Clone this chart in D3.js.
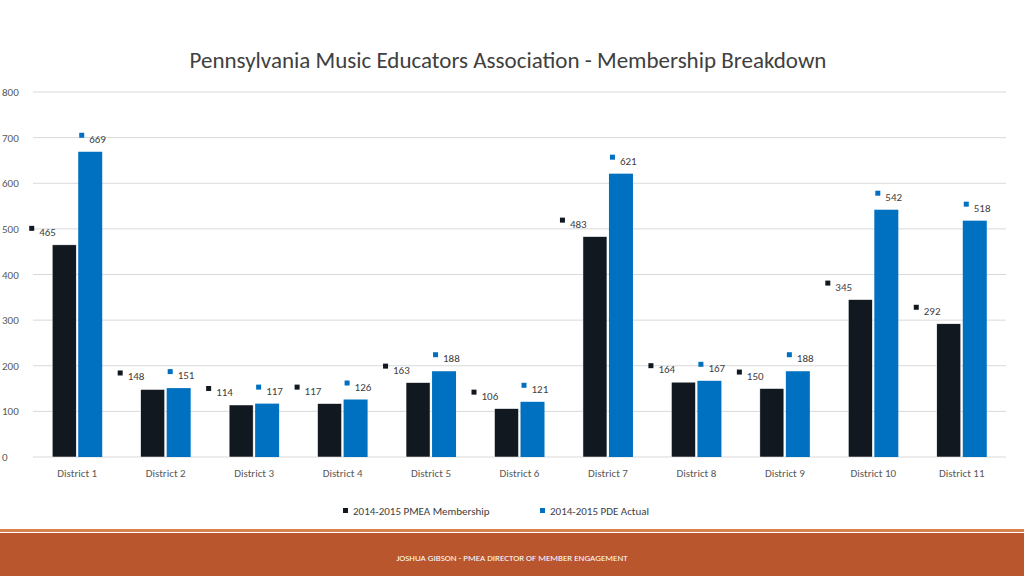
<!DOCTYPE html>
<html><head><meta charset="utf-8">
<script src="https://cdn.jsdelivr.net/npm/d3@7"></script>
<style>body{margin:0;background:#fff;font-family:Calibri,"Liberation Sans","Open Sans",sans-serif}</style>
</head><body><div id="chart"></div>
<script>
// chart values
var districts = ["District 1","District 2","District 3","District 4","District 5","District 6","District 7","District 8","District 9","District 10","District 11"];
var pmea = [465,148,114,117,163,106,483,164,150,345,292];
var pde = [669,151,117,126,188,121,621,167,188,542,518];
var seriesNames = ["2014-2015 PMEA Membership","2014-2015 PDE Actual"];
var colors = ["#111820","#0070C0"];
var yTicks = [0,100,200,300,400,500,600,700,800];

var W = 1024, H = 576;
var margin = {top: 92, right: 18, bottom: 119, left: 33};
var svg = d3.select("#chart").append("svg").attr("width", W).attr("height", H);

var x = d3.scaleBand().domain(districts).range([margin.left, W - margin.right]);
var y = d3.scaleLinear().domain([0, 800]).range([H - margin.bottom, margin.top]);

// gridlines
svg.append("g").selectAll("line").data(yTicks).enter().append("line")
  .attr("x1", margin.left).attr("x2", W - margin.right)
  .attr("y1", function(d){return y(d);}).attr("y2", function(d){return y(d);})
  .attr("stroke", "#d9d9d9").attr("stroke-width", 1);

svg.append("g").selectAll("text").data(yTicks).enter().append("text")
  .attr("x", 2).attr("y", function(d){return y(d) + 4;})
  .style("font-size", "11px").style("fill", "#595959").text(function(d){return d;});

// x axis labels
svg.append("g").selectAll("text").data(districts).enter().append("text")
  .attr("x", function(d){return x(d) + x.bandwidth()/2;}).attr("y", 477)
  .attr("text-anchor", "middle").style("font-size", "11px").style("fill", "#595959")
  .text(function(d){return d;});

var bw = 24;
[pmea, pde].forEach(function(vals, s) {
  var g = svg.append("g");
  var bx = function(i){ return x(districts[i]) + x.bandwidth()/2 - bw - 1 + s*(bw + 2); };
  g.selectAll("rect").data(vals).enter().append("rect")
    .attr("x", function(d,i){return bx(i);})
    .attr("y", function(d){return y(d);})
    .attr("width", bw).attr("height", function(d){return y(0) - y(d);})
    .attr("fill", colors[s]).attr("stroke", s ? "none" : "#fff").attr("stroke-width", 0.5);
  var lx = function(i){ return s ? bx(i) + 1 : bx(i) - 23; };
  g.selectAll("rect.k").data(vals).enter().append("rect")
    .attr("x", function(d,i){return lx(i);})
    .attr("y", function(d){return y(d) - 19;})
    .attr("width", 5).attr("height", 5).attr("fill", colors[s]);
  g.selectAll("text").data(vals).enter().append("text")
    .attr("x", function(d,i){return lx(i) + 10;})
    .attr("y", function(d){return y(d) - 9;})
    .style("font-size", "11px").style("fill", "#404040").text(function(d){return d;});
});

// title
svg.append("text").attr("x", 508).attr("y", 68).attr("text-anchor", "middle")
  .style("font-size", "23px").style("fill", "#404040")
  .text("Pennsylvania Music Educators Association - Membership Breakdown");

// legend
var lg = svg.append("g");
var lxs = [343, 540];
seriesNames.forEach(function(n, i) {
  lg.append("rect").attr("x", lxs[i]).attr("y", 508).attr("width", 5).attr("height", 5).attr("fill", colors[i]);
  lg.append("text").attr("x", lxs[i] + 10).attr("y", 515).style("font-size", "11px")
    .style("fill", "#404040").text(n);
});

// footer
svg.append("rect").attr("x", 0).attr("y", 529).attr("width", W).attr("height", 3).attr("fill", "#D9804F");
svg.append("rect").attr("x", 0).attr("y", 533).attr("width", W).attr("height", 43).attr("fill", "#B9562E");
svg.append("text").attr("x", 512).attr("y", 561).attr("text-anchor", "middle")
  .style("font-size", "9px").style("fill", "#fff")
  .text("JOSHUA GIBSON - PMEA DIRECTOR OF MEMBER ENGAGEMENT");
</script></body></html>
